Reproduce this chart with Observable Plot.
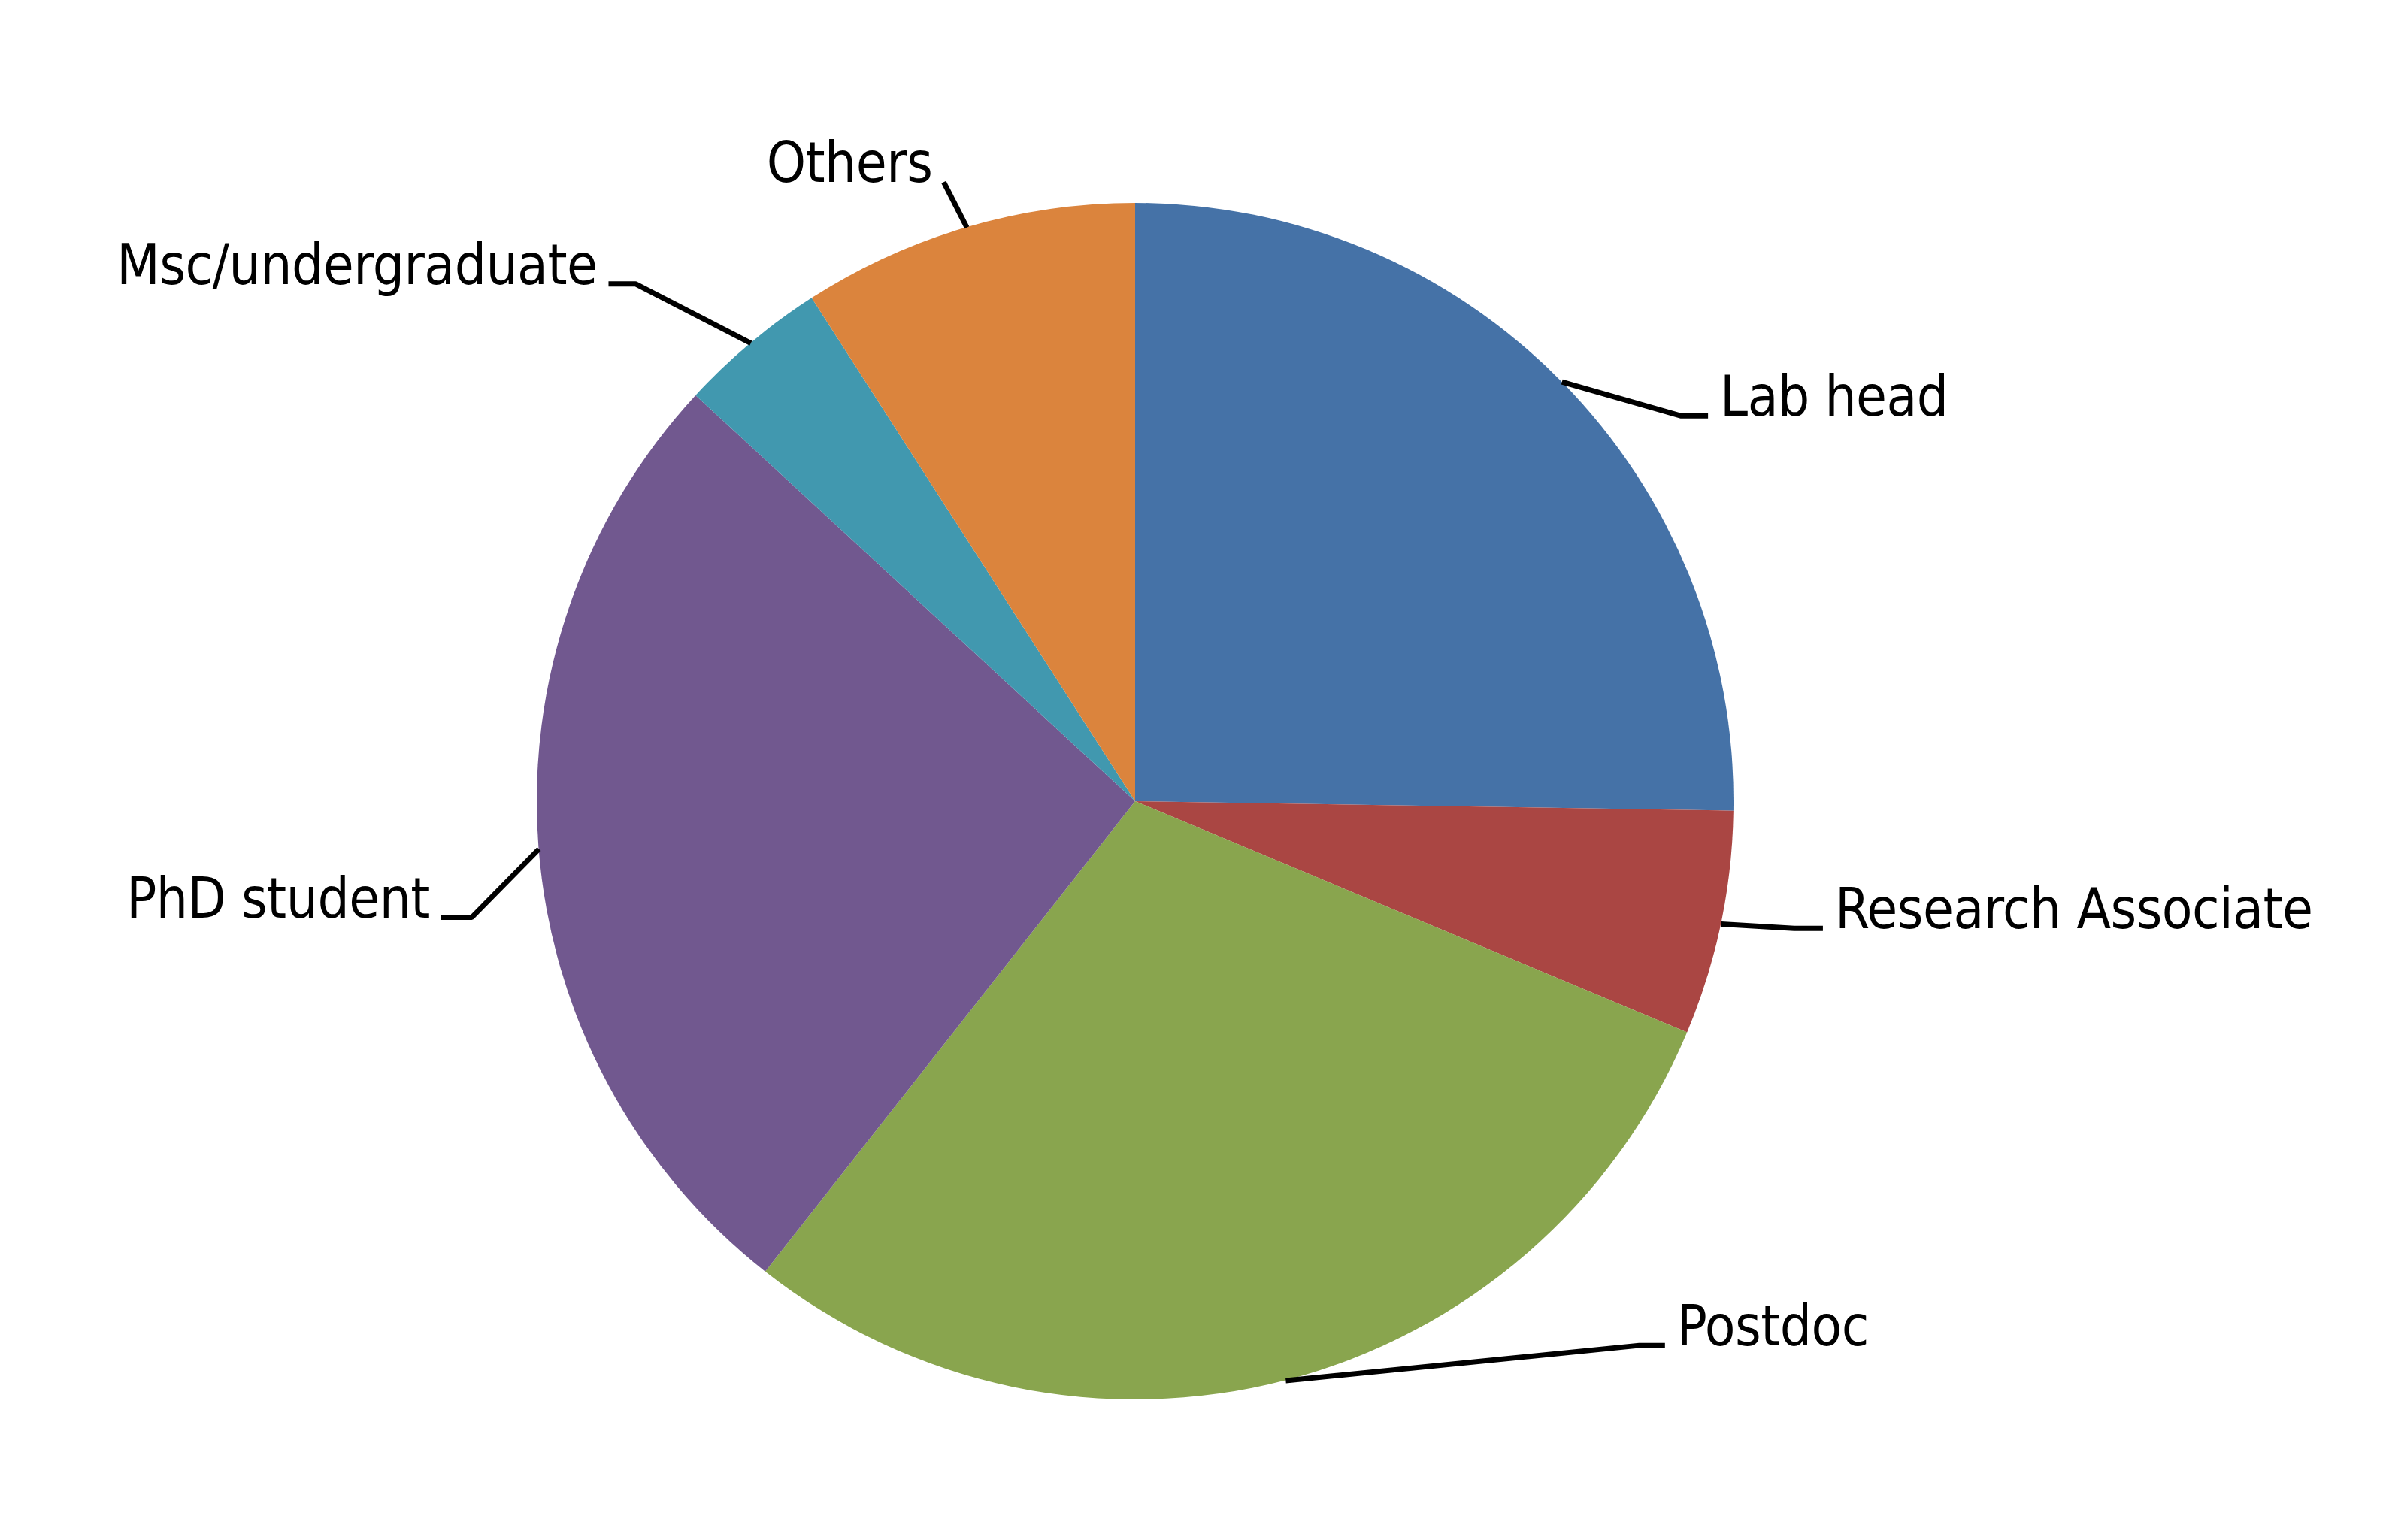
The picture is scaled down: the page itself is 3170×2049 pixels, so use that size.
<!DOCTYPE html>
<html>
<head>
<meta charset="utf-8">
<script src="https://cdn.jsdelivr.net/npm/d3@7"></script>
<script src="https://cdn.jsdelivr.net/npm/@observablehq/plot@0.6"></script>
<style>
html, body { margin: 0; padding: 0; background: #ffffff; }
#chart svg { display: block; }
</style>
</head>
<body>
<div id="chart"></div>
<script>
// ---- data ----
const categories = ["Lab head", "Research Associate", "Postdoc", "PhD student", "Msc/undergraduate", "Others"];
const counts = [25, 6, 29, 26, 4, 9];
const colors = ["#4572A7", "#AA4643", "#89A54E", "#71588F", "#4198AF", "#DB843D"];

// ---- label layout (elbow of each leader line, polar: degrees clockwise from 12 o'clock, distance in pie radii) ----
const labelAngle = [54.7, 100.9, 137.2, 260.1, 316.0, 342.8];
const labelDist = [1.116, 1.121, 1.239, 1.126, 1.203, 1.084];
const labelTail = [0.046, 0.048, 0.043, 0.051, 0.045, 0];

const W = 3170, H = 2049;
const R = 796, CX = 1510, CY = 1066; // pie centre and radius in pixels

const rows = categories.map((c, i) => ({category: c, count: counts[i]}));
const arcs = d3.pie().sort(null).value(d => d.count)(rows);
const colorFallback = d3.scaleOrdinal(categories, colors);

// leader lines and label anchors, computed from slice mid-angles and layout
const leaderRows = [];
const labelRows = [];
arcs.forEach((a, i) => {
  const mid = (a.startAngle + a.endAngle) / 2;
  const la = labelAngle[i] * Math.PI / 180;
  const ex = labelDist[i] * Math.sin(la), ey = labelDist[i] * Math.cos(la);
  const side = ex >= 0 ? 1 : -1;
  leaderRows.push({k: categories[i], x: Math.sin(mid), y: Math.cos(mid)});
  leaderRows.push({k: categories[i], x: ex, y: ey});
  leaderRows.push({k: categories[i], x: ex + side * labelTail[i], y: ey});
  labelRows.push({text: categories[i], x: ex + side * labelTail[i], y: ey, side});
});

// pie slices drawn through Plot's x/y scales
const pieMark = (index, scales) => {
  const cx = scales.x(0), cy = scales.y(0), r = scales.x(1) - scales.x(0);
  const color = scales.color || colorFallback;
  const arc = d3.arc().innerRadius(0).outerRadius(r);
  const g = d3.create("svg:g").attr("transform", `translate(${cx},${cy})`);
  g.selectAll("path").data(arcs).join("path")
    .attr("d", arc)
    .attr("fill", d => color(d.data.category));
  return g.node();
};

const chart = Plot.plot({
  width: W,
  height: H,
  margin: 0,
  style: "font-family: 'DejaVu Sans Condensed', 'DejaVu Sans', sans-serif; font-stretch: condensed; letter-spacing: -0.5px; background: #ffffff; overflow: visible;",
  x: {domain: [-CX / R, (W - CX) / R], axis: null},
  y: {domain: [-(H - CY) / R, CY / R], axis: null},
  color: {domain: categories, range: colors},
  marks: [
    pieMark,
    Plot.line(leaderRows, {x: "x", y: "y", z: "k", stroke: "#000000", strokeWidth: 7, strokeLinejoin: "miter", strokeLinecap: "butt", curve: "linear"}),
    Plot.text(labelRows.filter(d => d.side > 0), {x: "x", y: "y", text: "text", textAnchor: "start", lineAnchor: "bottom", dx: 16, fontSize: 74, fill: "#000000"}),
    Plot.text(labelRows.filter(d => d.side < 0), {x: "x", y: "y", text: "text", textAnchor: "end", lineAnchor: "bottom", dx: -15, fontSize: 74, fill: "#000000"})
  ]
});
document.getElementById("chart").appendChild(chart);
</script>
</body>
</html>
